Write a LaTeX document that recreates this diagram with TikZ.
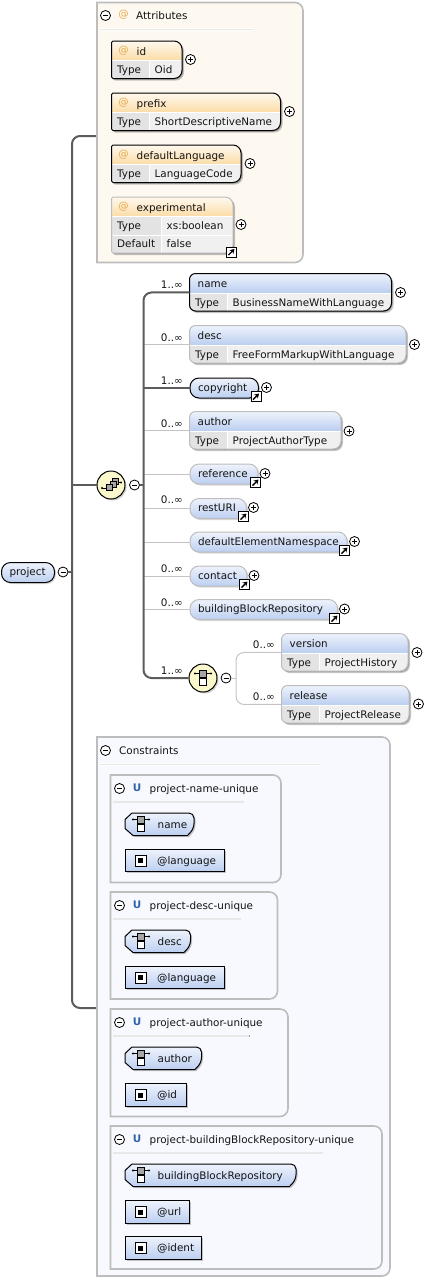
\documentclass[tikz,border=0pt]{standalone}
\usepackage{fontspec}
\setmainfont{DejaVu Sans}
\usepackage{tikz}
\usetikzlibrary{arrows.meta,positioning,shapes.geometric,shadows,calc}
\usepackage{xcolor}
\definecolor{panelline}{HTML}{BDBDBD}
\definecolor{attrpanel}{HTML}{FDF8F0}
\definecolor{constrpanel}{HTML}{F8F9FE}
\definecolor{ruleshade}{HTML}{D4D4D0}
\definecolor{bluetop}{HTML}{EEF3FC}
\definecolor{bluebot}{HTML}{BCCFF1}
\definecolor{orangetop}{HTML}{FFF9EF}
\definecolor{orangebot}{HTML}{FBDCA8}
\definecolor{rowgray}{HTML}{F0F0F0}
\definecolor{cellgray}{HTML}{E3E3E3}
\definecolor{atsign}{HTML}{EBA94F}
\definecolor{linkdark}{HTML}{5C5C5C}
\definecolor{linklight}{HTML}{C4C4C4}
\definecolor{seqyellow}{HTML}{FBF8CC}
\definecolor{uniqueblue}{HTML}{2C62AE}
\definecolor{inktext}{HTML}{141414}

%% shared card settings, changed per scope
\def\cardradius{6pt}
\def\cardheight{37.5}
\def\titleoffset{8}
\colorlet{headtop}{bluetop}
\colorlet{headbot}{bluebot}

\newcommand{\cardpath}[4]{[rounded corners=\cardradius] (#1,{(#2+#4)/2}) -- (#1,#2) [rounded corners=8pt] -- (#3,#2) -- (#3,#4) [rounded corners=\cardradius] -- (#1,#4) -- cycle}
\newcommand{\slotnode}[5]{\node[slot, minimum width={(#4-#2)*1pt}, minimum height={(#5-#3)*1pt}] (#1) at ({(#2+#4)/2},{(#3+#5)/2}) {};}

%% [border]{id}{x0}{y0}{x1}{divider}{title}{type}
\newcommand{\typebox}[8][black]{%
  \pgfmathsetmacro{\cardbot}{#4+\cardheight}
  \pgfmathsetmacro{\headbot}{#4+19}
  \slotnode{#2}{#3}{#4}{#5}{\cardbot}
  \fill[softshadow, shift={(2,2)}] \cardpath{#3}{#4}{#5}{\cardbot};
  \fill[softshadow, shift={(1,1)}] \cardpath{#3}{#4}{#5}{\cardbot};
  \begin{scope}
    \clip \cardpath{#3}{#4}{#5}{\cardbot};
    \fill[rowgray] (#3,#4) rectangle (#5,\cardbot);
    \fill[cellgray] (#3,\headbot) rectangle (#6,\cardbot);
    \shade[top color=headtop, bottom color=headbot] (#3,#4) rectangle (#5,\headbot);
    \draw[white] (#6,\headbot) -- (#6,\cardbot);
    \draw[white] (#3,{\headbot+.5}) -- (#5,{\headbot+.5});
  \end{scope}
  \draw[cardline, draw=#1] \cardpath{#3}{#4}{#5}{\cardbot};
  \node[labeltext] (#2title) at ({#3+\titleoffset},{#4+14}) {#7};
  \node[labeltext] (#2key) at ({#3+5.5},{#4+32.5}) {Type};
  \node[labeltext] (#2type) at ({#6+5.5},{#4+32.5}) {#8};
}
\newcommand{\panelbox}[6]{%
  \slotnode{#1}{#2}{#3}{#4}{#5}
  \filldraw[panelframe, fill=#6] \cardpath{#2}{#3}{#4}{#5};
}
%% constraint panel: {id}{x1}{y0}{y1}{title}
\newcommand{\uniquepanel}[5]{%
  \panelbox{#1}{110.5}{#3}{#2}{#4}{constrpanel}
  \node[minusicon] (#1minus) at (119.5,{#3+13.5}) {};
  \node[uniquemark] (#1mark) at (137,{#3+13}) {U};
  \node[labeltext] (#1title) at (149.5,{#3+17}) {#5};
  \fill[seprule] (113,{#3+26}) rectangle ({113+(#2-113)*.78},{#3+27.5});
}
\newcommand{\hexpath}[2]{(132,#2) [rounded corners=5pt] -- (#1,#2) -- (#1,{#2+15.5}) [sharp corners] -- ({#1-6.5},{#2+22.5}) -- (133,{#2+22.5}) -- (125,{#2+15.5}) -- (125,{#2+6.5}) -- cycle}
%% selector: {id}{x1}{y0}{title}
\newcommand{\hexselector}[4]{%
  \slotnode{#1}{125}{#3}{#2}{#3+22.5}
  \fill[softshadow, shift={(1.5,1.5)}] \hexpath{#2}{#3};
  \shade[cardline, draw=black, top color=bluetop, bottom color=bluebot] \hexpath{#2}{#3};
  \pic at (141,{#3+11}) {branchmark};
  \node[labeltext] (#1title) at (157.5,{#3+15}) {#4};
}
%% field: {id}{x1}{y0}{title}
\newcommand{\fieldbox}[4]{%
  \slotnode{#1}{125}{#3}{#2}{#3+22.5}
  \fill[softshadow] (126.5,{#3+1.5}) rectangle ({#2+1.5},{#3+24});
  \shade[cardline, draw=black, top color=bluetop, bottom color=bluebot] (125,#3) rectangle (#2,{#3+22.5});
  \node[fieldmark] (#1mark) at (140.5,{#3+11.5}) {};
  \node[labeltext] (#1title) at (157,{#3+15}) {#4};
}

\begin{document}
\begin{tikzpicture}[
  x=1pt, y=-1pt,
  every node/.style={font=\fontsize{10.4}{12}\selectfont, text=inktext},
  slot/.style={rectangle, inner sep=0pt, outer sep=0pt},
  softshadow/.style={black, opacity=.22},
  cardline/.style={line width=1pt},
  panelframe/.style={draw=panelline, line width=1.6pt},
  labeltext/.style={anchor=base west, inner sep=0pt},
  occurs/.style={anchor=base east, inner sep=0pt},
  atmark/.style={text=atsign, inner sep=0pt},
  uniquemark/.style={text=uniqueblue, inner sep=0pt, font=\fontsize{10.4}{12}\selectfont\bfseries},
  seprule/.style={left color=white, middle color=ruleshade, right color=white, opacity=.9},
  minusicon/.style={circle, draw=black, fill=white, line width=.8pt, minimum size=10pt, inner sep=0pt,
    path picture={\draw[line width=.7pt] (path picture bounding box.center) ++(-2.5,0) -- ++(5,0);}},
  plusicon/.style={circle, draw=black, fill=white, line width=.8pt, minimum size=10pt, inner sep=0pt,
    path picture={\draw[line width=.7pt] (path picture bounding box.center) ++(-2.5,0) -- ++(5,0)
      (path picture bounding box.center) ++(0,-2.5) -- ++(0,5);}},
  linkicon/.style={rectangle, draw=black, fill=white, line width=1pt, minimum size=10pt, inner sep=0pt,
    path picture={\draw[line width=1.4pt, -{Stealth[length=4.5pt,width=5.5pt]}]
      (path picture bounding box.center) ++(-3,3) -- ++(6,-6);}},
  pillbox/.style={rectangle, anchor=north west, rounded corners=9pt, top color=bluetop, bottom color=bluebot,
    line width=1pt, inner xsep=8pt, inner ysep=0pt, minimum height=20pt, text height=8pt, text depth=2pt,
    align=left, drop shadow={shadow xshift=1.5pt, shadow yshift=-1.5pt, opacity=.3}},
  compositor/.style={circle, draw=black, line width=1pt, fill=seqyellow, minimum size=28pt, inner sep=0pt,
    drop shadow={shadow xshift=1.5pt, shadow yshift=-1.5pt, opacity=.4}},
  fieldmark/.style={rectangle, draw=black, fill=white, line width=1pt, minimum size=11pt, inner sep=0pt,
    path picture={\fill[black] (path picture bounding box.center) ++(-2.5,-2.5) rectangle ++(5,5);}},
  reqlink/.style={draw=linkdark, line width=2pt, rounded corners=8pt},
  optlink/.style={draw=linklight, line width=1pt},
  optcurve/.style={draw=linklight, line width=1pt, rounded corners=8pt},
  branchmark/.pic={
    \draw[line width=.8pt] (-8,-4.5) -- (8,-4.5) (0,-4.5) -- (0,2);
    \fill (-8,-4.5) circle (1.1pt) (8,-4.5) circle (1.1pt);
    \filldraw[fill=gray!70, draw=black, line width=.6pt] (-3.5,-8) rectangle (3.5,-1);
    \filldraw[fill=white, draw=black, line width=.8pt] (-3.5,.5) rectangle (3.5,7.5);
  },
  stackmark/.pic={
    \draw[line width=.8pt] (-9,3) -- (-5,3) (6,-2.5) -- (10,-2.5);
    \fill (-9,3) circle (1.1pt) (10,-2.5) circle (1.1pt);
    \filldraw[fill=gray!70, draw=black, line width=.6pt] (1.5,-6.5) rectangle (7.5,-.5);
    \filldraw[fill=gray!70, draw=black, line width=.6pt] (-1,-4) rectangle (5,2);
    \filldraw[fill=gray!70, draw=black, line width=.6pt] (-5,-1) rectangle (1,5);
  },
]
  \useasboundingbox (0,0) rectangle (441,1278);

  %% Coordinates of the tree lines
  \coordinate (attrjoin) at (97,136);
  \coordinate (roottop) at (72,136);
  \coordinate (rootbot) at (72,1008);
  \coordinate (constrjoin) at (97,1008);
  \coordinate (trunktop) at (143.5,292.5);
  \coordinate (trunkbot) at (143.5,678);
  \coordinate (branchtop) at (236,652.5);
  \coordinate (branchbot) at (236,704.5);

  %% Root and main group
  \draw[reqlink] (attrjoin) -- (roottop) -- (rootbot) -- (constrjoin);

  %% Attributes panel
  \def\cardradius{0pt}
  \panelbox{attrs}{97}{2.5}{303}{262.5}{attrpanel}
  \node[minusicon] (attrsminus) at (105.5,15.5) {};
  \node[atmark] (attrsat) at (123.5,15) {@};
  \node[labeltext] (attrstitle) at (136,19) {Attributes};
  \fill[seprule] (100,28.5) rectangle (253,30);

  \begin{scope}
    \def\cardradius{1.5pt}
    \def\titleoffset{25}
    \colorlet{headtop}{orangetop}
    \colorlet{headbot}{orangebot}
    \typebox{idattr}{111.5}{41}{182}{149}{id}{Oid}
    \node[atmark] (idat) at (123.5,50.5) {@};
    \node[plusicon] (idplus) at (190.5,59.5) {};
    \typebox{prefixattr}{111.5}{93}{280.5}{149}{prefix}{ShortDescriptiveName}
    \node[atmark] (prefixat) at (123.5,102.5) {@};
    \node[plusicon] (prefixplus) at (289.5,111.5) {};
    \typebox{langattr}{111.5}{145}{241}{149}{defaultLanguage}{LanguageCode}
    \node[atmark] (langat) at (123.5,154.5) {@};
    \node[plusicon] (langplus) at (250,163.5) {};
    \def\cardheight{56}
    \typebox[panelline]{expattr}{111.5}{197}{233}{161}{experimental}{xs:boolean}
    \node[atmark] (expat) at (123.5,206.5) {@};
    \draw[white] (113,235) -- (232,235);
    \node[labeltext] (expdefkey) at (117,247) {Default};
    \node[labeltext] (expdefval) at (166.5,247) {false};
    \node[plusicon] (expplus) at (241,224.5) {};
    \node[linkicon] (explink) at (231.5,252) {};
  \end{scope}

  %% Sequence of child elements
  \def\cardradius{6pt}
  \typebox{namebox}{189.5}{273.5}{391.5}{227}{name}{BusinessNameWithLanguage}
  \node[plusicon] (nameplus) at (400.5,292.5) {};
  \node[occurs] (nameocc) at (183,288.5) {1..∞};

  \typebox[panelline]{descbox}{189.5}{325.5}{406}{227}{desc}{FreeFormMarkupWithLanguage}
  \node[plusicon] (descplus) at (414.5,344.5) {};
  \node[occurs] (descocc) at (183,341) {0..∞};

  \node[pillbox, draw=black, text width=52.5pt] (copyright) at (189.5,377.5) {copyright};
  \node[plusicon] (copyrightplus) at (266.5,387.5) {};
  \node[linkicon] (copyrightlink) at (256,396.5) {};
  \node[occurs] (copyrightocc) at (183,384) {1..∞};

  \typebox[panelline]{authorbox}{189.5}{411.5}{341}{227}{author}{ProjectAuthorType}
  \node[plusicon] (authorplus) at (349,431) {};
  \node[occurs] (authorocc) at (183,427) {0..∞};

  \node[pillbox, draw=panelline, text width=52pt] (reference) at (189.5,463.5) {reference};
  \node[plusicon] (referenceplus) at (265,473.5) {};
  \node[linkicon] (referencelink) at (255.5,482.5) {};

  \node[pillbox, draw=panelline, text width=40.5pt] (resturi) at (189.5,498) {restURI};
  \node[plusicon] (resturiplus) at (253.5,507.5) {};
  \node[linkicon] (resturilink) at (243.5,516.5) {};
  \node[occurs] (resturiocc) at (183,503.5) {0..∞};

  \node[pillbox, draw=panelline, text width=141pt] (elemspace) at (189.5,531.5) {defaultElementNamespace};
  \node[plusicon] (elemspaceplus) at (354.5,541.5) {};
  \node[linkicon] (elemspacelink) at (344.5,550.5) {};

  \node[pillbox, draw=panelline, text width=41pt] (contact) at (189.5,565.5) {contact};
  \node[plusicon] (contactplus) at (254,575.5) {};
  \node[linkicon] (contactlink) at (244.5,584.5) {};
  \node[occurs] (contactocc) at (183,572) {0..∞};

  \node[pillbox, draw=panelline, text width=131.5pt] (blockrepo) at (189.5,599) {buildingBlockRepository};
  \node[plusicon] (blockrepoplus) at (344.5,609) {};
  \node[linkicon] (blockrepolink) at (334.5,618.5) {};
  \node[occurs] (blockrepoocc) at (183,606) {0..∞};

  %% Light links of the sequence
  \draw[optlink] (descbox.west) -- (trunktop |- descbox.west);
  \draw[optlink] (authorbox.west) -- (trunktop |- authorbox.west);
  \draw[optlink] (reference.west) -- (trunktop |- reference.west);
  \draw[optlink] (resturi.west) -- (trunktop |- resturi.west);
  \draw[optlink] (elemspace.west) -- (trunktop |- elemspace.west);
  \draw[optlink] (contact.west) -- (trunktop |- contact.west);
  \draw[optlink] (blockrepo.west) -- (trunktop |- blockrepo.west);

  \node[compositor] (seqmain) at (111,485) {};
  \pic at (111,485) {stackmark};
  \node[minusicon] (seqminus) at (134.5,485) {};
  \node[compositor] (seqchoice) at (203,678) {};
  \pic at (203,678) {branchmark};
  \node[minusicon] (choiceminus) at (226,678) {};
  \node[occurs] (choiceocc) at (183,674.5) {1..∞};

  %% Choice branch
  \typebox[panelline]{versionbox}{281.5}{633.5}{408}{319}{version}{ProjectHistory}
  \node[plusicon] (versionplus) at (417,652.5) {};
  \node[occurs] (versionocc) at (275,648.5) {0..∞};
  \typebox[panelline]{releasebox}{281.5}{685.5}{409}{319}{release}{ProjectRelease}
  \node[plusicon] (releaseplus) at (418.5,704) {};
  \node[occurs] (releaseocc) at (275,700.5) {0..∞};
  \draw[optcurve] (versionbox.west) -- (branchtop) -- (branchbot) -- (releasebox.west);
  \draw[optlink] (choiceminus.east) -- (seqchoice.east -| branchtop);

  %% Thick links of the sequence
  \draw[reqlink] (namebox.west) -- (trunktop) -- (trunkbot) -- (seqchoice.west);
  \draw[reqlink, sharp corners] (copyright.west) -- (trunktop |- copyright.west);
  \draw[reqlink, sharp corners] (seqminus.east) -- (trunktop |- seqminus.east);
  \draw[reqlink, sharp corners] (seqmain.west) -- (roottop |- seqmain.west);

  %% Root element
  \node[pillbox, draw=black, text width=37pt] (project) at (1,562) {project};
  \node[minusicon] (projectminus) at (63,572) {};
  \draw[reqlink, sharp corners] (projectminus.east) -- (roottop |- projectminus.east);

  %% Constraints panel
  \def\cardradius{0pt}
  \panelbox{constr}{97}{737}{390}{1276}{constrpanel}
  \node[minusicon] (constrminus) at (105.5,750.5) {};
  \node[labeltext] (constrtitle) at (119,754) {Constraints};
  \fill[seprule] (100,763.5) rectangle (320,765);

  \uniquepanel{uniquename}{281}{775}{882.5}{project-name-unique}
  \hexselector{uniquenamesel}{194}{813}{name}
  \fieldbox{uniquenamefld}{224}{849}{@language}

  \uniquepanel{uniquedesc}{277.5}{892}{999}{project-desc-unique}
  \hexselector{uniquedescsel}{190.5}{930}{desc}
  \fieldbox{uniquedescfld}{224}{966}{@language}

  \uniquepanel{uniqueauthor}{288}{1009}{1116.5}{project-author-unique}
  \hexselector{uniqueauthorsel}{201.5}{1047}{author}
  \fieldbox{uniqueauthorfld}{186}{1083.5}{@id}

  \uniquepanel{uniquerepo}{382}{1126}{1269}{project-buildingBlockRepository-unique}
  \hexselector{uniquereposel}{296}{1164}{buildingBlockRepository}
  \fieldbox{uniquerepofld}{189.5}{1200.5}{@url}
  \fieldbox{uniquerepofldb}{201.5}{1236.5}{@ident}
\end{tikzpicture}
\end{document}
